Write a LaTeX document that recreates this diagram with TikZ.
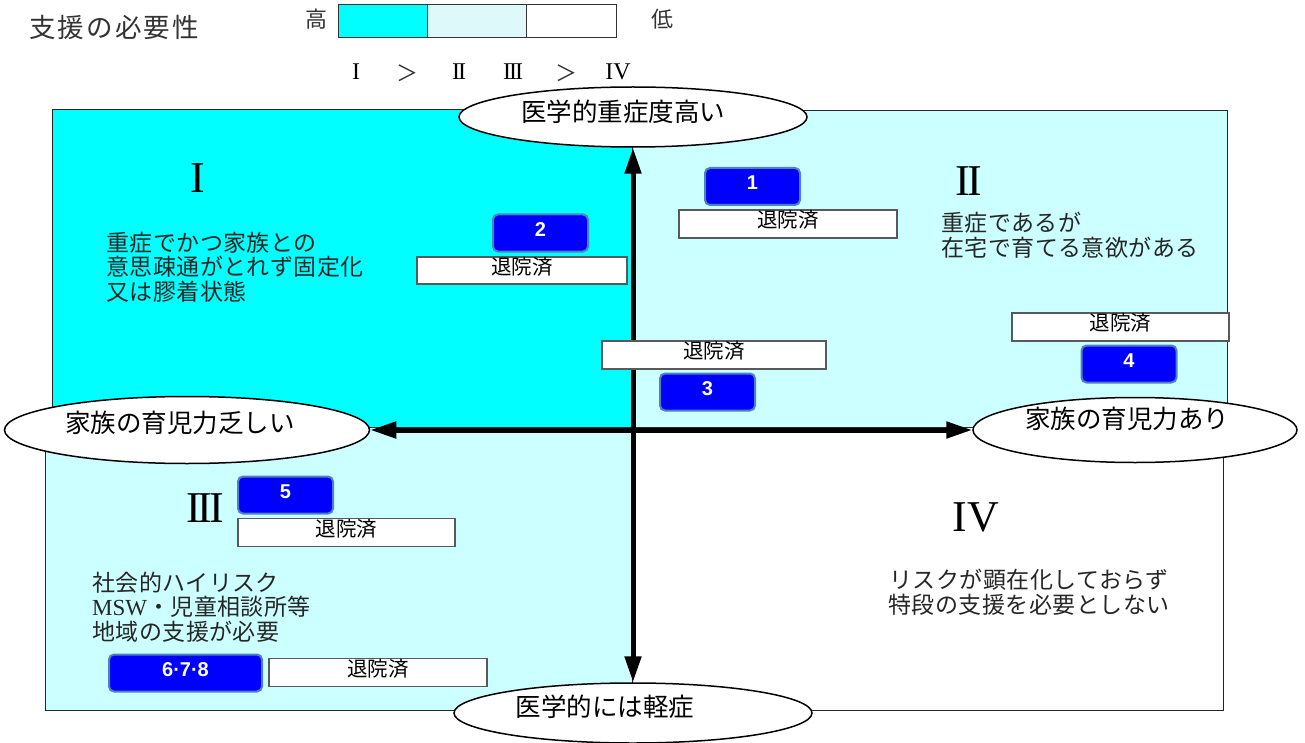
\documentclass[tikz,border=0pt]{standalone}
\usepackage{fontspec}
\setmainfont{Liberation Serif}
\newfontfamily\jp{Noto Sans CJK JP}
\newfontfamily\jpB{Noto Sans CJK JP}[LetterSpace=2]
\newfontfamily\jpD{Noto Sans CJK JP}[LetterSpace=8]
\newfontfamily\arb{Liberation Sans}
\usetikzlibrary{shapes.geometric,arrows.meta}
\definecolor{qcyan}{HTML}{00FFFF}
\definecolor{qlight}{HTML}{CCFFFF}
\definecolor{qdots}{HTML}{DDF9FA}
\definecolor{boxblue}{HTML}{0000FF}
\definecolor{boxedge}{HTML}{4F81BD}
\begin{document}
\begin{tikzpicture}[x=1pt,y=-1pt,
  quad/.style={draw=black!85, line width=0.9pt},
  legbar/.style={draw=black!80, line width=0.9pt},
  axisell/.style={ellipse, draw=black, line width=1.5pt, fill=white, inner sep=0pt},
  axislabel/.style={font=\jp\fontsize{25.5}{25.5}\selectfont, inner sep=0pt},
  numbox/.style={rectangle, rounded corners=5pt, draw=boxedge, line width=2pt, fill=boxblue,
    text=white, font=\arb\bfseries\fontsize{20}{20}\selectfont, minimum width=95pt,
    minimum height=37pt, inner sep=0pt, text height=14.5pt, text depth=8pt},
  donebox/.style={rectangle, draw=black!65, line width=1.2pt, fill=white, minimum width=217pt,
    minimum height=28pt, inner sep=0pt, font=\jp\fontsize{20.5}{20.5}\selectfont,
    text height=15pt, text depth=7.5pt},
  desc/.style={font=\jpB\fontsize{23}{24.5}\selectfont, text=black!85, inner sep=0pt},
  numeral/.style={font=\fontsize{44}{44}\selectfont, inner sep=0pt},
  small/.style={font=\fontsize{24}{24}\selectfont, inner sep=0pt},
  gt/.style={font=\jp\fontsize{22}{22}\selectfont, text=black!80, inner sep=0pt},
  leg/.style={font=\jp\fontsize{22}{22}\selectfont, text=black!80, inner sep=0pt},
  axisarrow/.style={line width=5pt, {Triangle[length=26pt,width=16pt]}-{Triangle[length=26pt,width=16pt]}}
]
\path[use as bounding box] (0,0) rectangle (1305,743);

% legend
\node[font=\jpD\fontsize{26.5}{26.5}\selectfont, text=black!80, inner sep=0pt, anchor=west] (title) at (29,27) {支援の必要性};
\node[leg] (hi) at (316,19) {高};
\node[leg] (lo) at (662,19) {低};
\draw[legbar, fill=qcyan] (338,4) rectangle (427,37);
\draw[legbar, fill=qdots] (427,4) rectangle (526,37);
\draw[legbar, fill=white] (526,4) rectangle (616,37);
\node[small] (r1) at (356,72) {I};
\node[gt] (g1) at (407,73) {＞};
\node[small] (r2) at (459,72) {I\kern-2pt I};
\node[small] (r3) at (513,72) {I\kern-2pt I\kern-2pt I};
\node[gt] (g2) at (566,73) {＞};
\node[small] (r4) at (618,72) {IV};

% quadrants
\draw[quad, fill=qcyan] (52,109) rectangle (632,427);
\draw[quad, fill=qlight] (632,110) rectangle (1227,427);
\draw[quad, fill=qlight] (45,427) rectangle (632,710);
\draw[quad, fill=white] (632,427) rectangle (1223,710);

% axis ellipses
\node[axisell, minimum width=348pt, minimum height=60pt,
  label={[axislabel, yshift=5pt, xshift=-10pt]center:医学的重症度高い}] (top) at (633,117) {};
\node[axisell, minimum width=358pt, minimum height=60pt,
  label={[axislabel, yshift=6pt, xshift=-28pt]center:医学的には軽症}] (bot) at (633,713) {};
\node[axisell, minimum width=365pt, minimum height=67pt,
  label={[axislabel, yshift=7pt, xshift=-7pt]center:家族の育児力乏しい}] (left) at (187,430) {};
\node[axisell, minimum width=324pt, minimum height=65pt,
  label={[axislabel, yshift=11pt, xshift=-8pt]center:家族の育児力あり}] (right) at (1135,430) {};

% axes
\draw[axisarrow] (top) -- (bot);
\draw[axisarrow] (left) -- (right);

% quadrant numerals
\node[numeral] (n1) at (198,178) {I};
\node[numeral] (n2) at (969,181) {I\kern-3pt I};
\node[numeral] (n3) at (205,508) {I\kern-3pt I\kern-3pt I};
\node[numeral] (n4) at (976,517) {IV};

% descriptions
\node[desc, anchor=west, align=left] (d1) at (106,267) {重症でかつ家族との\\意思疎通がとれず固定化\\又は膠着状態};
\node[desc, anchor=west, align=left] (d2) at (941,235) {重症であるが\\在宅で育てる意欲がある};
\node[desc, anchor=west, align=left] (d3) at (92,607) {社会的ハイリスク\\{\rmfamily MSW}・児童相談所等\\地域の支援が必要};
\node[desc, align=center] (d4) at (1029,592) {リスクが顕在化しておらず\\特段の支援を必要としない};

% numbered boxes
\node[numbox] (b1) at (752.5,186.5) {1};
\node[numbox] (b2) at (540.5,233) {2};
\node[numbox] (b3) at (707.5,392) {3};
\node[numbox] (b4) at (1129,364) {4};
\node[numbox] (b5) at (285.5,495) {5};
\node[numbox, minimum width=153pt] (b6) at (185.5,673) {6·7·8};

% discharged boxes
\node[donebox, minimum width=218pt] (t1) at (788,224) {退院済};
\node[donebox, minimum width=210pt, minimum height=27pt] (t2) at (522,270.5) {退院済};
\node[donebox, minimum width=224pt] (t3) at (714,355) {退院済};
\node[donebox] (t4) at (1120.5,327) {退院済};
\node[donebox] (t5) at (346.5,532.5) {退院済};
\node[donebox, minimum width=218pt] (t6) at (378,672.5) {退院済};
\end{tikzpicture}
\end{document}
